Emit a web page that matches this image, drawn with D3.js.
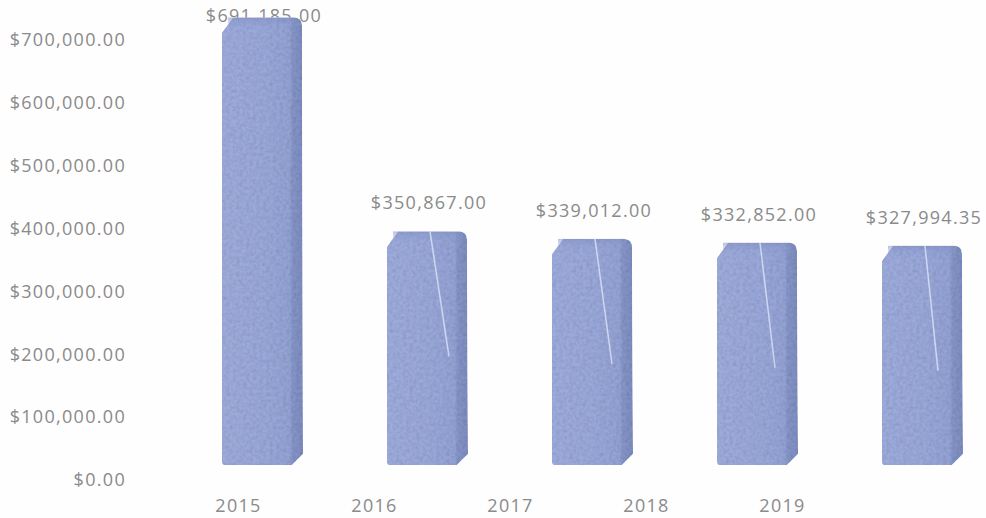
<!DOCTYPE html>
<html>
<head>
<meta charset="utf-8">
<script src="https://cdn.jsdelivr.net/npm/d3@7"></script>
<style>
  html, body { margin: 0; padding: 0; background: #fefefe; }
  svg { display: block; }
  .lbl { font-family: "Open Sans", "DejaVu Sans", sans-serif; font-size: 18px; fill: #8a8a8a; letter-spacing: 1.3px; }
</style>
</head>
<body>
<svg id="chart" width="986" height="518"></svg>
<script>
// Yearly totals
const years = ["2015", "2016", "2017", "2018", "2019"];
const totals = [691185, 350867, 339012, 332852, 327994.35];
const yTickValues = [0, 100000, 200000, 300000, 400000, 500000, 600000, 700000];

const W = 986, H = 518;
const svg = d3.select("#chart");
const fmt = d3.format("$,.2f");

// Value axis and the two horizontal scales: columns sit further back than the floor labels
const y = d3.scaleLinear().domain([0, 700000]).range([480, 40]);
const xBar = d3.scalePoint().domain(years).range([262, 922]);
const xLabel = d3.scalePoint().domain(years).range([238, 782]);

// Column geometry (3-D look)
const barW = 80, lift = 15, capDepth = 13, cham = 11, rad = 8;

// Defs: shading gradient and a mottled surface texture
const defs = svg.append("defs");
const grad = defs.append("linearGradient").attr("id", "colFace").attr("x1", 0).attr("x2", 1).attr("y1", 0).attr("y2", 0);
grad.append("stop").attr("offset", "0%").attr("stop-color", "#9eacdc");
grad.append("stop").attr("offset", "55%").attr("stop-color", "#99a8da");
grad.append("stop").attr("offset", "84%").attr("stop-color", "#93a2d4");
grad.append("stop").attr("offset", "87%").attr("stop-color", "#8595c8");
grad.append("stop").attr("offset", "100%").attr("stop-color", "#7e8dc1");

const capGrad = defs.append("linearGradient").attr("id", "colCap").attr("x1", 0).attr("x2", 0).attr("y1", 0).attr("y2", 1);
capGrad.append("stop").attr("offset", "0%").attr("stop-color", "#7f8dbf").attr("stop-opacity", 0.55);
capGrad.append("stop").attr("offset", "100%").attr("stop-color", "#93a3d8").attr("stop-opacity", 0);

const f = defs.append("filter").attr("id", "grain").attr("x", 0).attr("y", 0).attr("width", 1).attr("height", 1);
f.append("feTurbulence").attr("type", "fractalNoise").attr("baseFrequency", 0.3).attr("numOctaves", 3).attr("seed", 7).attr("result", "n");
f.append("feColorMatrix").attr("in", "n").attr("type", "saturate").attr("values", 0).attr("result", "g");
const ct = f.append("feComponentTransfer").attr("in", "g").attr("result", "g2");
["feFuncR", "feFuncG", "feFuncB"].forEach(t => ct.append(t).attr("type", "linear").attr("slope", 0.5).attr("intercept", 0.68));
ct.append("feFuncA").attr("type", "linear").attr("slope", 0).attr("intercept", 1);
f.append("feBlend").attr("in", "SourceGraphic").attr("in2", "g2").attr("mode", "multiply").attr("result", "b");
f.append("feComposite").attr("in", "b").attr("in2", "SourceGraphic").attr("operator", "in");

// Left value axis (labels only)
const yAxis = svg.append("g")
  .attr("transform", "translate(128,0)")
  .call(d3.axisLeft(y).tickValues(yTickValues).tickFormat(fmt).tickSize(0).tickPadding(2));
yAxis.select(".domain").remove();
yAxis.selectAll("text").attr("class", "lbl").attr("fill", null);
yAxis.attr("font-family", null).attr("font-size", null);

// Category labels along the floor
const xAxis = svg.append("g")
  .attr("transform", "translate(0,499)")
  .call(d3.axisBottom(xLabel).tickSize(0).tickPadding(0));
xAxis.select(".domain").remove();
xAxis.selectAll("text").attr("class", "lbl").attr("fill", null);
xAxis.attr("font-family", null).attr("font-size", null);

const data = years.map((yr, i) => ({ year: yr, value: totals[i] }));

// Data labels (drawn first so the tallest column can cover part of its label)
svg.append("g").selectAll("text")
  .data(data)
  .join("text")
  .attr("class", "lbl")
  .attr("text-anchor", "middle")
  .attr("x", d => xBar(d.year) + 2)
  .attr("y", d => Math.max(22, y(d.value) - lift - capDepth - 22))
  .text(d => fmt(d.value));

function colPath(d) {
  const cx = xBar(d.year);
  const L = cx - barW / 2, R = cx + barW / 2;
  const top = y(d.value) - lift - capDepth;
  const bot = y(0) - lift;
  return `M${L + 2},${bot} Q${L},${bot} ${L},${bot - 3} L${L},${top + cham + 4} L${L + cham},${top} L${R - rad},${top} ` +
         `Q${R},${top} ${R},${top + rad} L${R + 1},${bot - cham} L${R - cham + 1},${bot} Z`;
}

const cols = svg.append("g").selectAll("g")
  .data(data)
  .join("g");

cols.append("path")
  .attr("d", colPath)
  .attr("fill", "url(#colFace)")
  .attr("filter", "url(#grain)");

// top face shading
cols.append("rect")
  .attr("x", d => xBar(d.year) - barW / 2 + 6)
  .attr("y", d => y(d.value) - lift - capDepth)
  .attr("width", barW - 12)
  .attr("height", capDepth)
  .attr("fill", "url(#colCap)");

// thin glare streak on the shorter columns
cols.filter(d => d.value < 500000).append("line")
  .attr("x1", d => xBar(d.year) + 3)
  .attr("y1", d => y(d.value) - lift - capDepth)
  .attr("x2", (d, i) => xBar(d.year) + 22 - i * 2)
  .attr("y2", d => y(d.value) - lift - capDepth + 125)
  .attr("stroke", "#e3e9f8")
  .attr("stroke-width", 1.5)
  .attr("stroke-opacity", 0.75);
</script>
</body>
</html>
